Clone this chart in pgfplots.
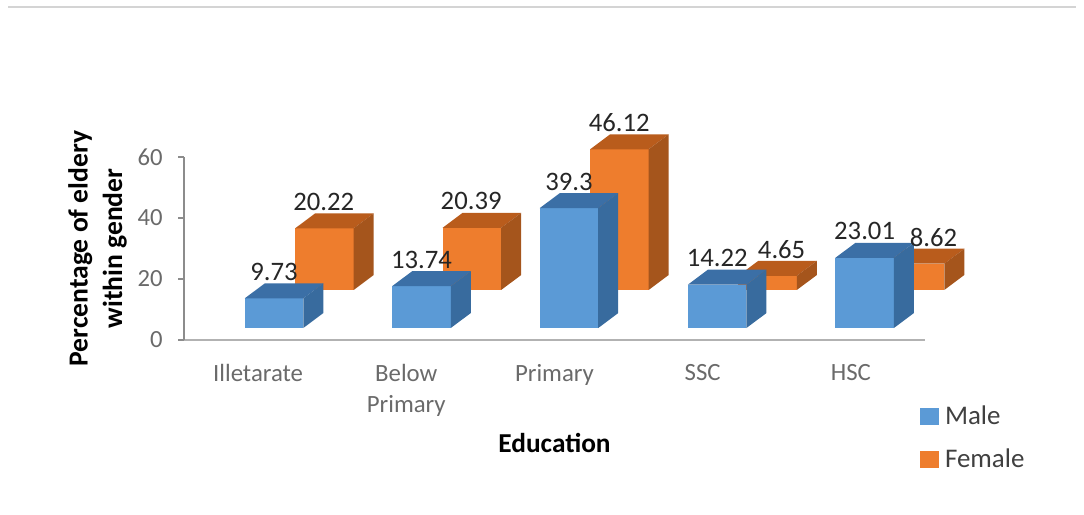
\documentclass[border=0pt]{standalone}
\usepackage{fontspec}
\setmainfont{Carlito}
\usepackage{pgfplots}
\pgfplotsset{compat=1.18}

\definecolor{malefront}{HTML}{5B9AD6}
\definecolor{maletop}{HTML}{3B6FA6}
\definecolor{maleside}{HTML}{386B9E}
\definecolor{femalefront}{HTML}{EE7D2D}
\definecolor{femaletop}{HTML}{B95C1C}
\definecolor{femaleside}{HTML}{A5551C}
\definecolor{ticktext}{HTML}{6A6A6A}
\definecolor{valuetext}{HTML}{262626}

% Depth of the extruded bars, in axis units
\newcommand{\dpx}{0.135}
\newcommand{\dpy}{4.9}
\newcommand{\barw}{0.395}

% #1 left edge, #2 base, #3 value, #4 colour prefix, #5 label shift
\newcommand{\threedbar}[5]{%
  \addplot[fill=#4front,draw=none,forget plot] coordinates
    {(#1,#2) ({#1+\barw},#2) ({#1+\barw},{#2+#3}) (#1,{#2+#3})};
  \addplot[fill=#4top,draw=none,forget plot] coordinates
    {(#1,{#2+#3}) ({#1+\barw},{#2+#3}) ({#1+\barw+\dpx},{#2+#3+\dpy}) ({#1+\dpx},{#2+#3+\dpy})};
  \addplot[fill=#4side,draw=none,forget plot] coordinates
    {({#1+\barw},#2) ({#1+\barw+\dpx},{#2+\dpy}) ({#1+\barw+\dpx},{#2+#3+\dpy}) ({#1+\barw},{#2+#3})};
}
\newcommand{\valuelabel}[5]{%
  \node[text=valuetext,font=\fontsize{20pt}{22pt}\selectfont,anchor=center]
    at (axis cs:{#1+\barw/2+#5},{#2+#3+8.7}) {#3};
}
% Every bar once: left edge, base, value, colour, label shift
\newcommand{\allbars}[1]{%
  #1{0.75}{16.4}{20.22}{female}{-0.005}
  #1{0.41}{3.93}{9.73}{male}{0}
  #1{1.745}{16.4}{20.39}{female}{-0.005}
  #1{1.405}{3.93}{13.74}{male}{0}
  #1{2.74}{16.4}{46.12}{female}{0}
  #1{2.40}{3.93}{39.3}{male}{0}
  #1{3.74}{16.4}{4.65}{female}{0.095}
  #1{3.40}{3.93}{14.22}{male}{0}
  #1{4.735}{16.4}{8.62}{female}{0.125}
  #1{4.395}{3.93}{23.01}{male}{0}
}

\begin{document}
\begin{tikzpicture}
  \path[use as bounding box] (0,0) rectangle (813pt,385.5pt);
  \draw[color=black!17,line width=1.5pt] (6pt,380pt) -- (807pt,380pt);
  \begin{axis}[
    at={(138pt,130.5pt)}, anchor=origin,
    scale only axis, width=555.75pt, height=137.25pt,
    xmin=0, xmax=5, ymin=0, ymax=60,
    axis x line=bottom, axis y line=left,
    x axis line style={-,color=black!30,line width=1.5pt},
    y axis line style={-,color=black!45,line width=1pt},
    clip=false,
    xtick={0.5,1.5,2.5,3.5,4.5},
    xticklabels={Illetarate,{Below\\Primary},Primary,SSC,HSC},
    ytick={0,20,40,60},
    tick align=outside,
    x tick style={draw=none},
    y tick style={color=black!45,line width=0.8pt},
    major tick length=4.5pt,
    xticklabel style={align=center,text=ticktext,yshift=-10pt,
      font=\fontsize{18.6pt}{23.5pt}\selectfont},
    yticklabel style={text=ticktext,xshift=-8pt,
      font=\fontsize{18.5pt}{20pt}\selectfont},
    /pgf/number format/assume math mode=true,
    xlabel={Education},
    ylabel={Percentage of eldery\\within gender},
    xlabel style={at={(axis description cs:0.5,-0.563)},anchor=center,
      font=\fontsize{20.5pt}{23pt}\selectfont\bfseries},
    ylabel style={at={(axis description cs:-0.1167,0.5)},anchor=center,align=center,
      font=\fontsize{20.7pt}{26pt}\selectfont\bfseries},
    legend style={at={(axis description cs:0.993,-0.36)},anchor=north west,
      draw=none,fill=none,inner sep=0pt,outer sep=0pt,row sep=17pt,
      font=\fontsize{20.2pt}{22pt}\selectfont,text=black!75,
      nodes={inner sep=0pt}},
    legend cell align=left,
    legend image code/.code={\fill[#1] (0pt,-6pt) rectangle (13.5pt,6pt);},
  ]
    \addlegendimage{malefront}
    \addlegendentry{\hspace{5pt}Male}
    \addlegendimage{femalefront}
    \addlegendentry{\hspace{5pt}Female}
    \allbars{\threedbar}
    \allbars{\valuelabel}
  \end{axis}
\end{tikzpicture}
\end{document}
